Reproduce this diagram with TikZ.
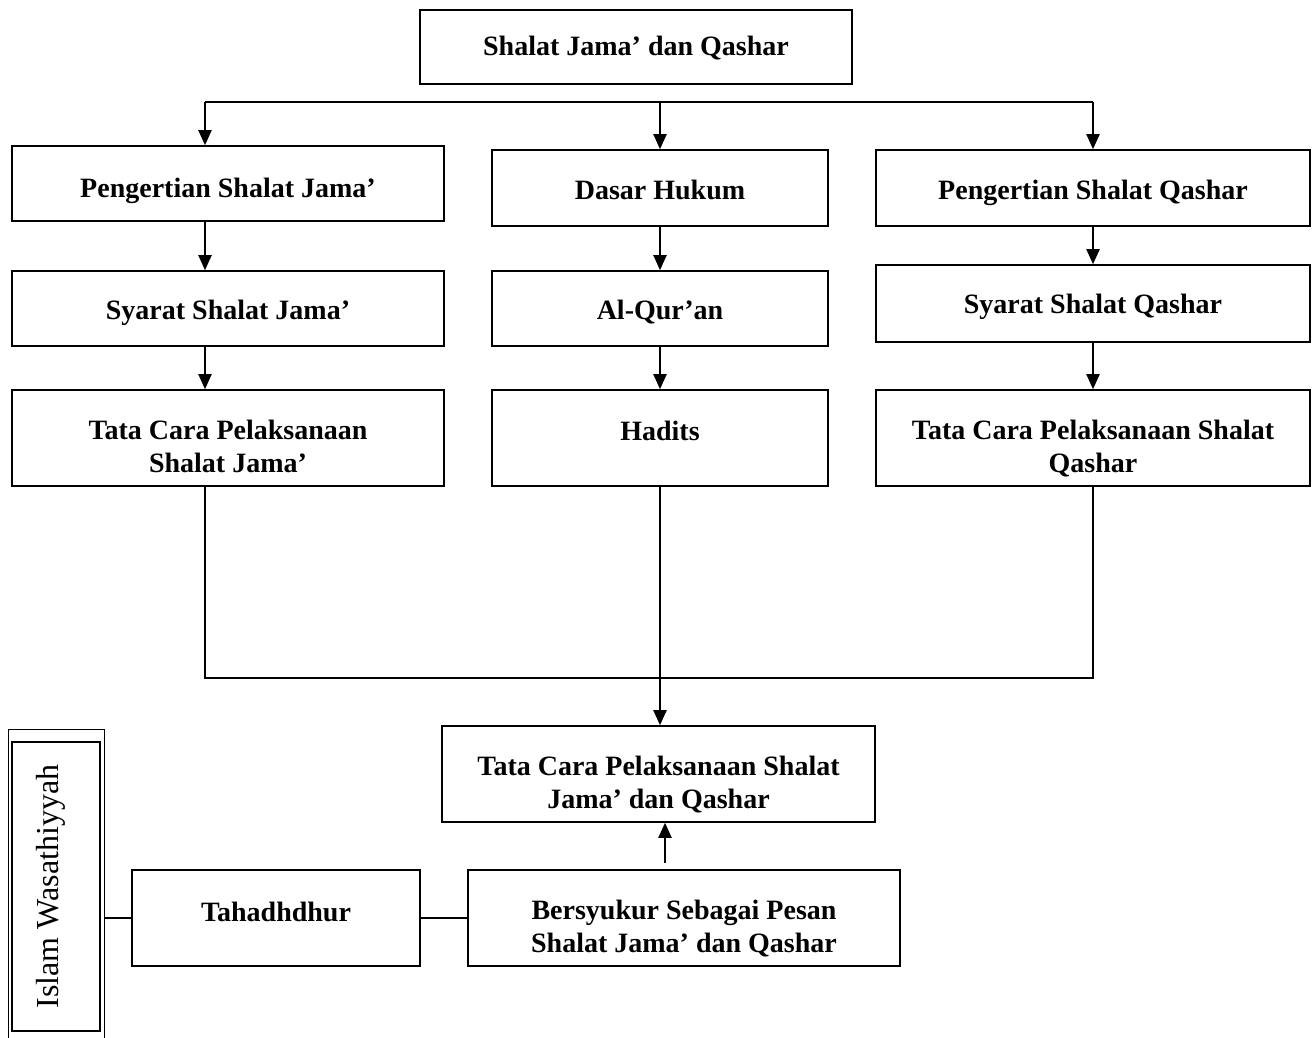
\documentclass[tikz,border=0pt]{standalone}
\usepackage{fontspec}
\setmainfont{Liberation Serif}
\usetikzlibrary{arrows.meta,calc}
\newcommand\fstrut{\rule{0pt}{42pt}}
\newcommand\lstrut{\rule[-6pt]{0pt}{6pt}}
\tikzset{
  box/.style={draw,line width=1.6pt,rectangle,inner sep=0pt,align=center,
    font=\fontsize{28}{33}\selectfont\bfseries},
  onel/.style={box,text height=#1,text depth=6pt},
  onel/.default=28pt,
  conn/.style={line width=2pt},
  arr/.style={line width=2pt,-{Triangle[width=13pt,length=15pt]}}
}
\begin{document}
\begin{tikzpicture}[x=1pt,y=-1pt]
\useasboundingbox (0,0) rectangle (1316,1037);
\node[onel=22pt,minimum width=432pt,minimum height=74pt] (top) at (636,47) {Shalat Jama’ dan Qashar};
\node[onel=33pt,minimum width=432pt,minimum height=75pt] (pj) at (228,183.5) {Pengertian Shalat Jama’};
\node[onel=27pt,minimum width=432pt,minimum height=75pt] (sj) at (228,308.5) {Syarat Shalat Jama’};
\node[box,minimum width=432pt,minimum height=96pt] (tj) at (228,438) {\fstrut Tata Cara Pelaksanaan\\Shalat Jama’\lstrut};
\node[onel=28pt,minimum width=336pt,minimum height=76pt] (dh) at (660,188) {Dasar Hukum};
\node[onel=28pt,minimum width=336pt,minimum height=75pt] (aq) at (660,308.5) {Al-Qur’an};
\node[onel=10pt,minimum width=336pt,minimum height=96pt] (hd) at (660,438) {Hadits};
\node[onel=28pt,minimum width=434pt,minimum height=76pt] (pq) at (1093,188) {Pengertian Shalat Qashar};
\node[onel=26pt,minimum width=434pt,minimum height=77pt] (sq) at (1093,303.5) {Syarat Shalat Qashar};
\node[box,minimum width=434pt,minimum height=96pt] (tq) at (1093,438) {\fstrut Tata Cara Pelaksanaan Shalat\\Qashar\lstrut};
\node[box,minimum width=433pt,minimum height=96pt] (tc) at (658.5,774) {\fstrut Tata Cara Pelaksanaan Shalat\\Jama’ dan Qashar\lstrut};
\node[box,minimum width=432pt,minimum height=96pt] (bs) at (684,918) {\fstrut Bersyukur Sebagai Pesan\\Shalat Jama’ dan Qashar\lstrut};
\node[onel=12pt,minimum width=288pt,minimum height=96pt] (th) at (276,918) {Tahadhdhur};
\node[draw,line width=0.9pt,minimum width=96pt,minimum height=310pt,inner sep=0pt] (iwo) at (56,884) {};
\node[draw,line width=1.8pt,minimum width=289pt,minimum height=88pt,inner sep=0pt,
  rotate=90,text height=22pt,text depth=17pt,font=\fontsize{32}{36}\selectfont] (iw) at (56,886.5) {Islam Wasathiyyah};
% top distribution
\coordinate (hl) at (205,102);
\coordinate (hr) at (1093,102);
\draw[conn] (hl) -- (hr);
\draw[arr] (hl) -- (hl |- pj.north);
\draw[arr] (dh.north |- hl) -- (dh.north);
\draw[arr] (hr) -- (pq.north);
% columns
\draw[arr] (pj.south -| hl) -- (sj.north -| hl);
\draw[arr] (sj.south -| hl) -- (tj.north -| hl);
\draw[arr] (dh.south) -- (aq.north);
\draw[arr] (aq.south) -- (hd.north);
\draw[arr] (pq.south) -- (sq.north);
\draw[arr] (sq.south) -- (tq.north);
% collector
\coordinate (cl) at (205,678);
\coordinate (cr) at (1093,678);
\draw[conn] (tj.south -| hl) -- (cl) -- (cr) -- (tq.south);
\draw[arr] (hd.south) -- (hd.south |- tc.north);
% bottom
\coordinate (bsa) at (665,863);
\draw[arr] (bsa) -- (bsa |- tc.south);
\draw[conn] (th.east) -- (bs.west);
\draw[conn,line width=1.4pt] (iwo.east |- th.west) -- (th.west);
\end{tikzpicture}
\end{document}
